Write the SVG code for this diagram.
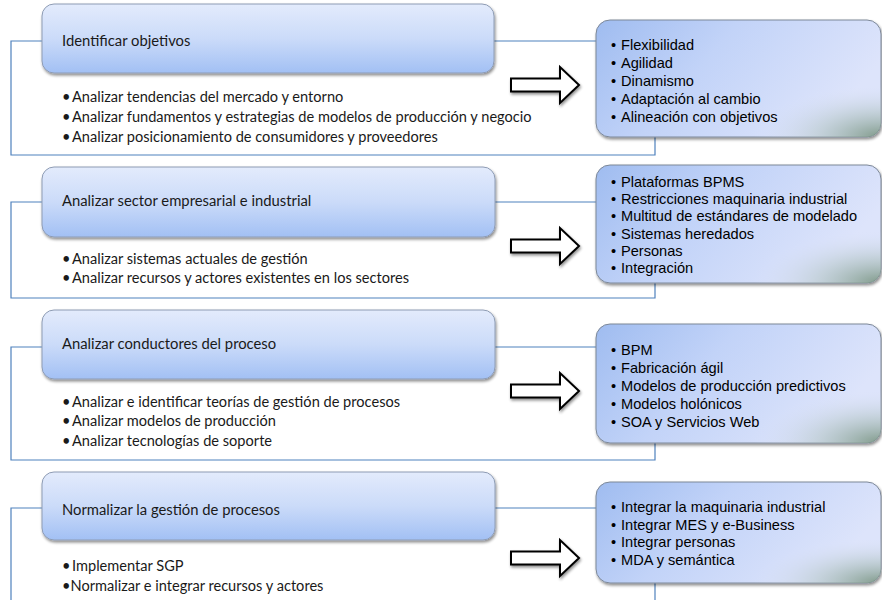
<svg xmlns="http://www.w3.org/2000/svg" width="882" height="600" viewBox="0 0 882 600">
<defs>
<linearGradient id="hdr" x1="0" y1="0" x2="0" y2="1">
<stop offset="0" stop-color="#e3ebfc"/>
<stop offset="0.5" stop-color="#cbdbf9"/>
<stop offset="1" stop-color="#a2c0f4"/>
</linearGradient>
<linearGradient id="rb" x1="0" y1="0" x2="1" y2="0.35">
<stop offset="0" stop-color="#9fbcf0"/>
<stop offset="0.45" stop-color="#c2d3f8"/>
<stop offset="1" stop-color="#dde4fb"/>
</linearGradient>
<radialGradient id="corner" cx="1" cy="1" r="0.45" fx="1" fy="1">
<stop offset="0" stop-color="#7a9583" stop-opacity="0.95"/>
<stop offset="0.5" stop-color="#a9bdb8" stop-opacity="0.45"/>
<stop offset="1" stop-color="#dfe5fb" stop-opacity="0"/>
</radialGradient>
<filter id="sh" x="-5%" y="-10%" width="112%" height="130%">
<feGaussianBlur in="SourceAlpha" stdDeviation="1.6"/>
<feOffset dx="1" dy="2" result="b"/>
<feComponentTransfer><feFuncA type="linear" slope="0.45"/></feComponentTransfer>
<feMerge><feMergeNode/><feMergeNode in="SourceGraphic"/></feMerge>
</filter>
<path id="arrow" d="M0,-6.5 H49 V-18 L68,0 L49,18 V6.5 H0 Z"/>
</defs>
<style>
.conn{fill:none;stroke:#4f81bd;stroke-width:1.2}
.hdr{fill:url(#hdr);stroke:#8e9cb4;stroke-width:1}
.rb{fill:url(#rb);stroke:#7d8898;stroke-width:1}
.rc{fill:url(#corner);stroke:none}
.arr{fill:#ffffff;stroke:#000000;stroke-width:2;stroke-linejoin:miter}
.lt{font-family:Lato,"Open Sans","Liberation Sans",sans-serif;font-size:14.6px;fill:#1a1a1a;white-space:pre}
.ht{font-family:Lato,"Open Sans","Liberation Sans",sans-serif;font-size:14.8px;fill:#1a1a1a}
.rt{font-family:"Liberation Sans",Arial,sans-serif;font-size:14.6px;fill:#000000}
</style>
<rect width="882" height="600" fill="#ffffff"/>

<g id="connectors">
<path class="conn" d="M42,41 H11 V155 H655 V137"/>
<path class="conn" d="M494,41 H596"/>
<path class="conn" d="M42,202 H11 V298 H655 V283"/>
<path class="conn" d="M495,202 H596"/>
<path class="conn" d="M42,347 H11 V460 H655 V443"/>
<path class="conn" d="M495,347 H596"/>
<path class="conn" d="M42,508 H11 V600"/>
<path class="conn" d="M495,508 H596"/>
<path class="conn" d="M655,583 V600"/>
</g>

<g id="step1">
<rect class="hdr" x="42" y="4" width="452" height="69" rx="12" filter="url(#sh)"/>
<text class="ht" x="62" y="46">Identificar objetivos</text>
</g>
<g id="step1-items" class="lt">
<text x="62" y="102">•</text><text x="72" y="102">Analizar tendencias del mercado y entorno</text>
<text x="62" y="122">•</text><text x="72" y="122">Analizar fundamentos y estrategias de modelos de producción y negocio</text>
<text x="62" y="142">•</text><text x="72" y="142">Analizar posicionamiento de consumidores y proveedores</text>
</g>
<g id="arrow1"><use href="#arrow" class="arr" x="511" y="85" filter="url(#sh)"/></g>
<g id="result1">
<rect class="rb" x="596" y="20" width="285" height="117" rx="14" filter="url(#sh)"/>
<rect class="rc" x="596" y="20" width="285" height="117" rx="14"/>
<g class="rt">
<text x="611" y="50">•</text><text x="621" y="50">Flexibilidad</text>
<text x="611" y="68">•</text><text x="621" y="68">Agilidad</text>
<text x="611" y="86">•</text><text x="621" y="86">Dinamismo</text>
<text x="611" y="104">•</text><text x="621" y="104">Adaptación al cambio</text>
<text x="611" y="122">•</text><text x="621" y="122">Alineación con objetivos</text>
</g>
</g>

<g id="step2">
<rect class="hdr" x="42" y="167" width="453" height="70" rx="12" filter="url(#sh)"/>
<text class="ht" x="62" y="206">Analizar sector empresarial e industrial</text>
</g>
<g id="step2-items" class="lt">
<text x="62" y="264">•</text><text x="72" y="264">Analizar sistemas actuales de gestión</text>
<text x="62" y="283">•</text><text x="72" y="283">Analizar recursos y actores existentes en los sectores</text>
</g>
<g id="arrow2"><use href="#arrow" class="arr" x="511" y="246" filter="url(#sh)"/></g>
<g id="result2">
<rect class="rb" x="596" y="165" width="285" height="118" rx="14" filter="url(#sh)"/>
<rect class="rc" x="596" y="165" width="285" height="118" rx="14"/>
<g class="rt">
<text x="611" y="187">•</text><text x="621" y="187">Plataformas BPMS</text>
<text x="611" y="204.2">•</text><text x="621" y="204.2">Restricciones maquinaria industrial</text>
<text x="611" y="221.4">•</text><text x="621" y="221.4">Multitud de estándares de modelado</text>
<text x="611" y="238.6">•</text><text x="621" y="238.6">Sistemas heredados</text>
<text x="611" y="255.8">•</text><text x="621" y="255.8">Personas</text>
<text x="611" y="273">•</text><text x="621" y="273">Integración</text>
</g>
</g>

<g id="step3">
<rect class="hdr" x="42" y="310" width="453" height="69" rx="12" filter="url(#sh)"/>
<text class="ht" x="62" y="349">Analizar conductores del proceso</text>
</g>
<g id="step3-items" class="lt">
<text x="62" y="407">•</text><text x="72" y="407">Analizar e identificar teorías de gestión de procesos</text>
<text x="62" y="426">•</text><text x="72" y="426">Analizar modelos de producción</text>
<text x="62" y="446">•</text><text x="72" y="446">Analizar tecnologías de soporte</text>
</g>
<g id="arrow3"><use href="#arrow" class="arr" x="511" y="391" filter="url(#sh)"/></g>
<g id="result3">
<rect class="rb" x="596" y="324" width="285" height="119" rx="14" filter="url(#sh)"/>
<rect class="rc" x="596" y="324" width="285" height="119" rx="14"/>
<g class="rt">
<text x="611" y="355">•</text><text x="621" y="355">BPM</text>
<text x="611" y="373">•</text><text x="621" y="373">Fabricación ágil</text>
<text x="611" y="391">•</text><text x="621" y="391">Modelos de producción predictivos</text>
<text x="611" y="409">•</text><text x="621" y="409">Modelos holónicos</text>
<text x="611" y="427">•</text><text x="621" y="427">SOA y Servicios Web</text>
</g>
</g>

<g id="step4">
<rect class="hdr" x="42" y="472" width="453" height="68" rx="12" filter="url(#sh)"/>
<text class="ht" x="62" y="515">Normalizar la gestión de procesos</text>
</g>
<g id="step4-items" class="lt">
<text x="62" y="571">•</text><text x="72" y="571">Implementar SGP</text>
<text x="62" y="591">•Normalizar  e integrar recursos y actores</text>
</g>
<g id="arrow4"><use href="#arrow" class="arr" x="511" y="558" filter="url(#sh)"/></g>
<g id="result4">
<rect class="rb" x="596" y="482" width="285" height="101" rx="14" filter="url(#sh)"/>
<rect class="rc" x="596" y="482" width="285" height="101" rx="14"/>
<g class="rt">
<text x="611" y="512">•</text><text x="621" y="512">Integrar la maquinaria industrial</text>
<text x="611" y="530">•</text><text x="621" y="530">Integrar MES y e-Business</text>
<text x="611" y="547">•</text><text x="621" y="547">Integrar personas</text>
<text x="611" y="565">•</text><text x="621" y="565">MDA y semántica</text>
</g>
</g>
</svg>
